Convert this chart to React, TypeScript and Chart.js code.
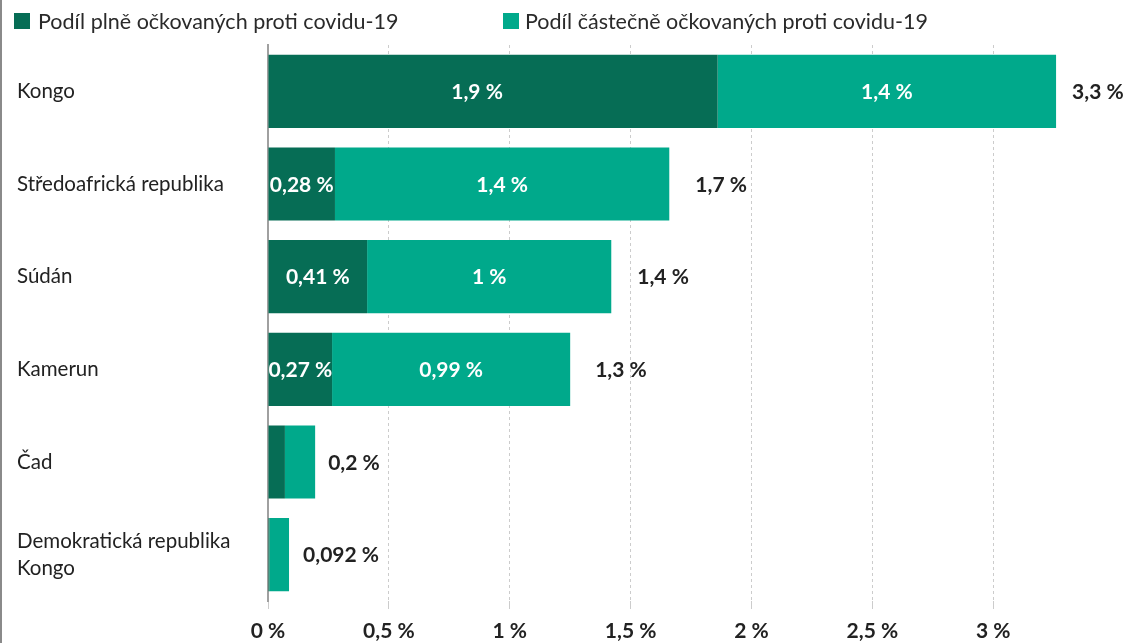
import React, { useEffect, useRef } from "react";
import { Chart, registerables } from "chart.js";

Chart.register(...registerables);

const categories: (string | string[])[] = [
  "Kongo",
  "Středoafrická republika",
  "Súdán",
  "Kamerun",
  "Čad",
  ["Demokratická republika", "Kongo"],
];
const seriesNames = [
  "Podíl plně očkovaných proti covidu-19",
  "Podíl částečně očkovaných proti covidu-19",
];
const fullyVaccinated = [1.86, 0.277, 0.41, 0.265, 0.07, 0.006];
const partiallyVaccinated = [1.4, 1.383, 1.01, 0.985, 0.125, 0.081];
const fullyLabels = ["1,9 %", "0,28 %", "0,41 %", "0,27 %", "", ""];
const partiallyLabels = ["1,4 %", "1,4 %", "1 %", "0,99 %", "", ""];
const totalLabels = ["3,3 %", "1,7 %", "1,4 %", "1,3 %", "0,2 %", "0,092 %"];
const xTicks = [0, 0.5, 1, 1.5, 2, 2.5, 3];
const xTickLabels = ["0 %", "0,5 %", "1 %", "1,5 %", "2 %", "2,5 %", "3 %"];

const totalLabelGap = [16, 26, 26, 25, 13, 14];
const fullyLabelShift = [-16, 0, 0, 0, 0, 0];

const DARK = "#066d55";
const LIGHT = "#00a98b";
const FONT = "Lato, 'Noto Sans', sans-serif";

const labelPlugin = {
  id: "barLabels",
  afterDatasetsDraw(chart: any) {
    const ctx = chart.ctx;
    ctx.save();
    ctx.font = `bold 21px ${FONT}`;
    ctx.textBaseline = "middle";
    const insideSets = [fullyLabels, partiallyLabels];
    insideSets.forEach((labels, di) => {
      const meta = chart.getDatasetMeta(di);
      meta.data.forEach((bar: any, i: number) => {
        const t = labels[i];
        if (!t) return;
        const { x, base, y } = bar.getProps(["x", "base", "y"], true);
        const shift = di === 0 ? fullyLabelShift[i] : 0;
        ctx.fillStyle = "#ffffff";
        ctx.textAlign = "center";
        ctx.fillText(t, (x + base) / 2 + shift, y + 1);
      });
    });
    const lastMeta = chart.getDatasetMeta(1);
    lastMeta.data.forEach((bar: any, i: number) => {
      const { x, y } = bar.getProps(["x", "y"], true);
      ctx.fillStyle = "#222222";
      ctx.textAlign = "left";
      ctx.fillText(totalLabels[i], x + totalLabelGap[i], y + 1);
    });
    ctx.restore();
  },
};

export default function App() {
  const canvasRef = useRef<HTMLCanvasElement | null>(null);

  useEffect(() => {
    if (!canvasRef.current) return;
    const chart = new Chart(canvasRef.current, {
      type: "bar",
      data: {
        labels: categories,
        datasets: [
          {
            label: seriesNames[0],
            data: fullyVaccinated,
            backgroundColor: DARK,
            barPercentage: 0.79,
            categoryPercentage: 1,
          },
          {
            label: seriesNames[1],
            data: partiallyVaccinated,
            backgroundColor: LIGHT,
            barPercentage: 0.79,
            categoryPercentage: 1,
          },
        ],
      },
      options: {
        indexAxis: "y",
        animation: false,
        responsive: false,
        maintainAspectRatio: false,
        layout: { padding: { left: 15, right: 40, top: 45, bottom: 0 } },
        plugins: {
          legend: { display: false },
          tooltip: { enabled: false },
        },
        scales: {
          x: {
            stacked: true,
            min: 0,
            max: 3.45,
            afterBuildTicks: (scale: any) => {
              scale.ticks = xTicks.map((v) => ({ value: v }));
            },
            afterFit: (scale: any) => {
              scale.height = 42;
            },
            ticks: {
              includeBounds: false,
              padding: 10,
              color: "#222222",
              font: { family: FONT, size: 21, weight: "bold" },
              callback: (v: any) => {
                const idx = xTicks.indexOf(Number(v));
                return idx >= 0 ? xTickLabels[idx] : "";
              },
            },
            grid: {
              color: "#cccccc",
              lineWidth: 1,
              drawTicks: true,
              tickLength: 8,
            },
            border: { display: false, dash: [3, 3] },
          },
          y: {
            stacked: true,
            afterFit: (scale: any) => {
              scale.width = 251;
            },
            ticks: {
              crossAlign: "far",
              color: "#222222",
              font: { family: FONT, size: 20.5, lineHeight: 1.3 },
              padding: 10,
            },
            grid: { display: false, drawTicks: false },
            border: { display: true, color: "#a0a0a0", width: 2 },
          },
        },
      },
      plugins: [labelPlugin],
    } as any);
    return () => chart.destroy();
  }, []);

  const legendText: React.CSSProperties = {
    fontFamily: FONT,
    fontSize: 21.5,
    color: "#2a2a2a",
    whiteSpace: "nowrap",
  };
  const box = (c: string): React.CSSProperties => ({
    width: 16,
    height: 16,
    background: c,
    display: "inline-block",
  });

  return (
    <div
      style={{
        position: "absolute",
        left: 0,
        top: 0,
        width: 1142,
        height: 643,
        background: "#ffffff",
        boxSizing: "border-box",
        borderLeft: "2px solid #8a8a8a",
        overflow: "hidden",
      }}
    >
      <canvas
        ref={canvasRef}
        width={1140}
        height={643}
        style={{ position: "absolute", left: 0, top: 0, width: 1140, height: 643 }}
      />
      <div style={{ position: "absolute", left: 12, top: 13, display: "flex", alignItems: "center", height: 16 }}>
        <span style={box(DARK)} />
        <span style={{ ...legendText, marginLeft: 8 }}>{seriesNames[0]}</span>
      </div>
      <div style={{ position: "absolute", left: 501, top: 13, display: "flex", alignItems: "center", height: 16 }}>
        <span style={box(LIGHT)} />
        <span style={{ ...legendText, marginLeft: 6 }}>{seriesNames[1]}</span>
      </div>
    </div>
  );
}
